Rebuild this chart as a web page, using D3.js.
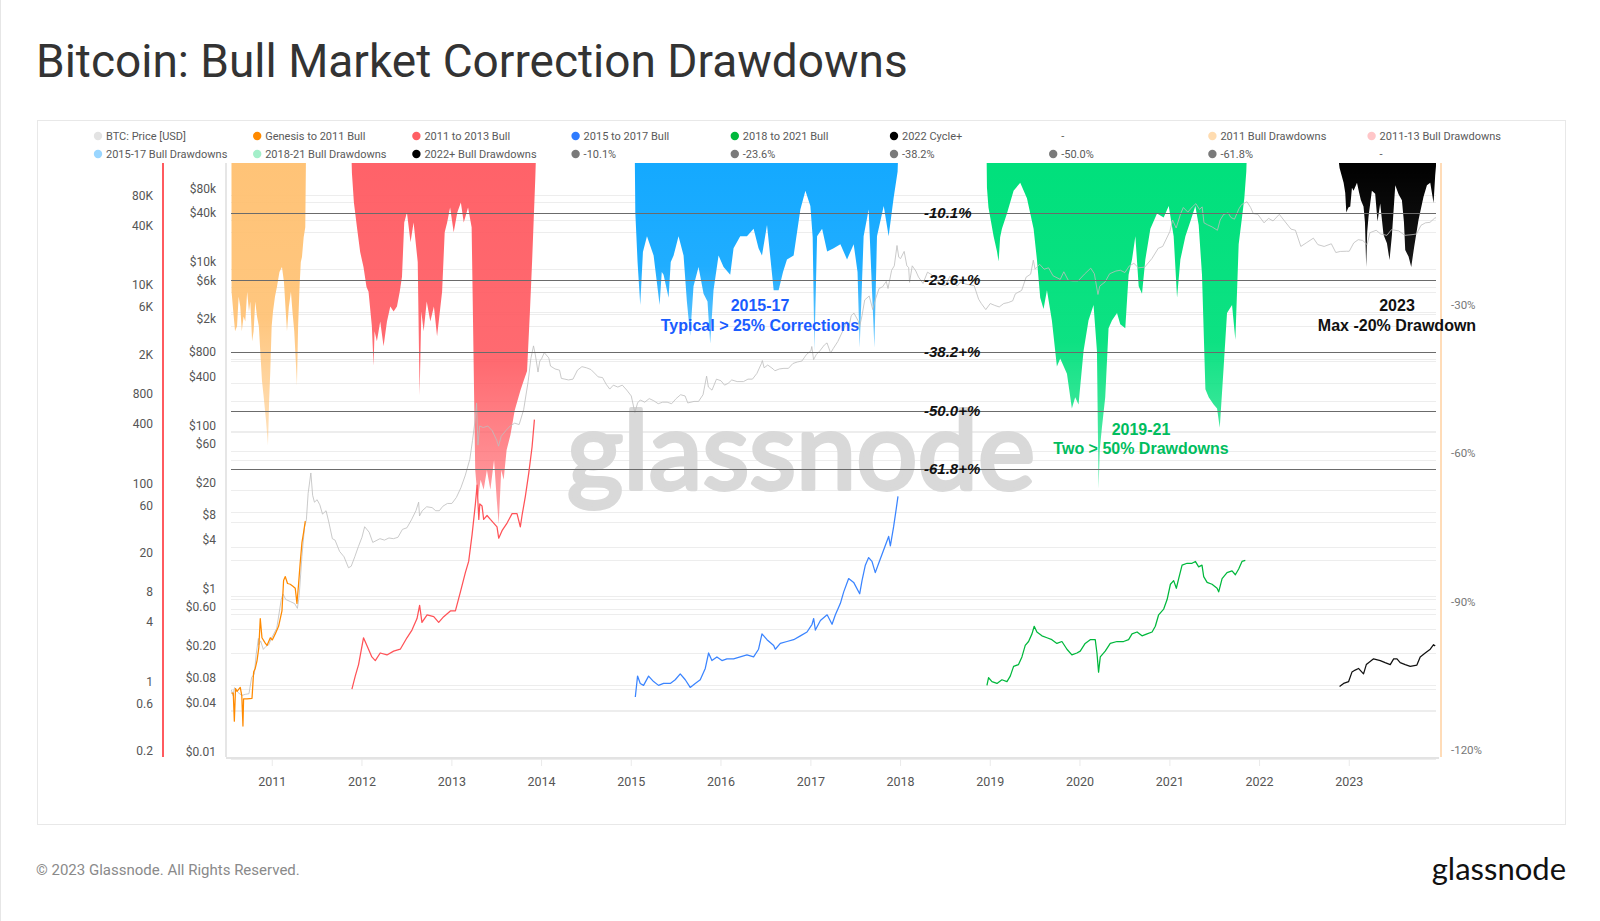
<!DOCTYPE html>
<html><head><meta charset="utf-8">
<script src="https://cdn.jsdelivr.net/npm/d3@7"></script>
<style>body{margin:0;background:#fff;} svg{display:block;}</style>
</head><body>
<svg id="chart" width="1600" height="921"></svg>
<script>
// ---------------- DATA (decimal year, value) ----------------
const btcPrice = [[2010.545,0.07],[2010.56,0.06],[2010.58,0.075],[2010.6,0.07],[2010.62,0.065],[2010.66,0.06],[2010.7,0.062],[2010.74,0.063],[2010.77,0.1],[2010.8,0.11],[2010.82,0.19],[2010.845,0.3],[2010.85,0.25],[2010.87,0.28],[2010.9,0.22],[2010.93,0.24],[2010.96,0.25],[2010.99,0.3],[2011.05,0.4],[2011.1,0.9],[2011.12,1.05],[2011.15,0.9],[2011.2,0.85],[2011.25,0.8],[2011.28,0.7],[2011.3,1.0],[2011.33,3.0],[2011.36,7],[2011.38,8.5],[2011.4,18],[2011.43,31.9],[2011.45,17],[2011.47,14],[2011.5,15],[2011.53,13],[2011.56,10],[2011.6,11],[2011.63,8],[2011.67,5],[2011.7,4.8],[2011.75,3.5],[2011.8,3.0],[2011.85,2.2],[2011.88,2.3],[2011.92,3],[2011.96,4],[2012.0,5.2],[2012.03,7],[2012.08,6],[2012.12,4.5],[2012.2,5],[2012.25,4.8],[2012.3,5.1],[2012.35,5],[2012.4,5.2],[2012.45,6.5],[2012.5,6.8],[2012.55,8.5],[2012.6,11],[2012.63,14],[2012.64,9.5],[2012.67,11],[2012.72,12.3],[2012.78,12],[2012.82,11],[2012.86,11],[2012.9,12.5],[2012.95,13.5],[2013.0,13.5],[2013.05,16],[2013.1,21],[2013.15,30],[2013.2,47],[2013.23,80],[2013.26,145],[2013.275,230],[2013.29,70],[2013.31,120],[2013.35,115],[2013.4,120],[2013.45,105],[2013.5,80],[2013.52,68],[2013.55,90],[2013.6,105],[2013.65,120],[2013.7,130],[2013.75,125],[2013.8,190],[2013.85,420],[2013.88,800],[2013.91,1150],[2013.93,900],[2013.96,550],[2013.98,750],[2014.0,800],[2014.03,950],[2014.08,820],[2014.1,650],[2014.15,600],[2014.2,580],[2014.22,460],[2014.26,450],[2014.3,440],[2014.35,450],[2014.4,580],[2014.45,640],[2014.5,620],[2014.55,590],[2014.6,520],[2014.63,480],[2014.68,470],[2014.72,390],[2014.76,340],[2014.8,380],[2014.85,360],[2014.9,380],[2014.95,330],[2015.0,280],[2015.04,175],[2015.07,230],[2015.1,250],[2015.15,235],[2015.2,260],[2015.25,245],[2015.3,225],[2015.35,235],[2015.4,235],[2015.45,225],[2015.5,260],[2015.55,290],[2015.6,280],[2015.63,230],[2015.7,240],[2015.75,240],[2015.8,290],[2015.84,490],[2015.86,360],[2015.9,330],[2015.95,450],[2016.0,430],[2016.04,380],[2016.08,400],[2016.12,440],[2016.18,420],[2016.25,420],[2016.3,450],[2016.35,450],[2016.4,530],[2016.45,700],[2016.46,760],[2016.48,620],[2016.52,670],[2016.58,600],[2016.6,570],[2016.65,600],[2016.7,610],[2016.75,610],[2016.8,700],[2016.85,730],[2016.9,750],[2016.95,900],[2017.0,1000],[2017.01,1130],[2017.03,780],[2017.06,900],[2017.1,1000],[2017.15,1180],[2017.18,1250],[2017.22,940],[2017.25,1070],[2017.3,1300],[2017.35,1700],[2017.4,2300],[2017.42,1900],[2017.45,2700],[2017.48,2900],[2017.53,2300],[2017.54,1900],[2017.57,2700],[2017.6,4200],[2017.65,4700],[2017.69,3200],[2017.72,4300],[2017.76,5800],[2017.8,6100],[2017.84,7100],[2017.86,5800],[2017.9,9700],[2017.93,11000],[2017.96,19500],[2017.98,14000],[2018.0,13500],[2018.04,16500],[2018.07,11000],[2018.09,10500],[2018.1,6900],[2018.13,11000],[2018.17,9500],[2018.2,8000],[2018.25,6700],[2018.3,9200],[2018.35,8500],[2018.4,7500],[2018.45,6500],[2018.5,6300],[2018.55,8200],[2018.6,7000],[2018.63,6200],[2018.67,7000],[2018.72,6600],[2018.78,6400],[2018.82,6300],[2018.87,4300],[2018.9,3800],[2018.95,3200],[2019.0,3800],[2019.05,3600],[2019.1,3450],[2019.15,3800],[2019.2,3900],[2019.25,4100],[2019.28,5000],[2019.35,5500],[2019.4,8000],[2019.45,8700],[2019.48,12900],[2019.5,10000],[2019.55,11500],[2019.6,10000],[2019.65,10400],[2019.7,8300],[2019.78,7500],[2019.82,9300],[2019.87,7300],[2019.92,7200],[2019.98,7200],[2020.05,8700],[2020.12,10300],[2020.16,8800],[2020.2,4900],[2020.22,6200],[2020.28,7000],[2020.33,8800],[2020.4,9500],[2020.45,9700],[2020.5,9100],[2020.55,11000],[2020.6,11800],[2020.65,10400],[2020.72,10600],[2020.8,13500],[2020.87,18000],[2020.92,19000],[2021.0,29000],[2021.03,40000],[2021.07,32000],[2021.12,48000],[2021.15,57000],[2021.2,50000],[2021.25,58000],[2021.29,63500],[2021.33,54000],[2021.36,58000],[2021.38,37000],[2021.42,35000],[2021.47,33000],[2021.53,30000],[2021.56,40000],[2021.6,47000],[2021.65,49000],[2021.68,43000],[2021.72,41000],[2021.77,55000],[2021.8,62000],[2021.86,67000],[2021.9,57000],[2021.93,48000],[2021.98,47000],[2022.05,37000],[2022.1,42000],[2022.15,39000],[2022.22,47000],[2022.27,40000],[2022.35,31000],[2022.4,30000],[2022.46,19000],[2022.52,21000],[2022.6,24000],[2022.65,20000],[2022.72,19000],[2022.8,20500],[2022.85,16000],[2022.9,16500],[2022.97,16600],[2023.0,16600],[2023.05,21000],[2023.1,23000],[2023.15,22500],[2023.2,20000],[2023.23,28000],[2023.3,30000],[2023.35,27000],[2023.42,26000],[2023.47,30500],[2023.55,29500],[2023.62,26000],[2023.7,26500],[2023.75,27000],[2023.8,34500],[2023.85,37000],[2023.9,37500],[2023.95,42000],[2023.97,43000]];

const bullGenesis2011 = [[2010.545,0.9],[2010.565,0.9],[2010.577,0.47],[2010.59,1.0],[2010.607,0.94],[2010.643,1.03],[2010.66,0.85],[2010.673,0.42],[2010.68,0.79],[2010.718,0.79],[2010.774,0.8],[2010.792,1.47],[2010.81,1.6],[2010.83,1.92],[2010.85,2.6],[2010.866,5.1],[2010.885,3.26],[2010.92,2.9],[2010.941,2.73],[2010.978,3.26],[2011.0,3.1],[2011.033,3.57],[2011.07,4.26],[2011.108,6.08],[2011.126,12.3],[2011.145,13.5],[2011.17,11.5],[2011.2,11.3],[2011.23,10.8],[2011.256,10.3],[2011.275,7.25],[2011.293,11.3],[2011.31,18],[2011.331,29.9],[2011.35,38],[2011.368,49]];

const bull2011to2013 = [[2011.888,0.99],[2011.925,1.34],[2011.962,1.75],[2012.017,3.26],[2012.055,2.73],[2012.11,2.09],[2012.148,1.92],[2012.203,2.29],[2012.278,2.19],[2012.352,2.39],[2012.426,2.5],[2012.5,3.26],[2012.556,3.9],[2012.612,5.1],[2012.641,6.93],[2012.667,4.66],[2012.724,5.56],[2012.798,5.32],[2012.853,4.66],[2012.909,5.32],[2012.983,6.08],[2013.039,6.08],[2013.095,9.47],[2013.15,14.8],[2013.187,19.2],[2013.225,35.8],[2013.262,73],[2013.281,113],[2013.3,51],[2013.311,73],[2013.336,69.6],[2013.354,51],[2013.392,55.8],[2013.429,51],[2013.466,46.8],[2013.503,42.8],[2013.522,32.9],[2013.559,39.2],[2013.615,46.8],[2013.671,58.3],[2013.726,58.3],[2013.763,42.8],[2013.782,55.8],[2013.819,87],[2013.857,149],[2013.894,275],[2013.92,517]];

const bull2015to2017 = [[2015.045,0.825],[2015.07,1.34],[2015.1,1.13],[2015.137,1.08],[2015.193,1.34],[2015.249,1.18],[2015.304,1.08],[2015.36,1.13],[2015.435,1.13],[2015.49,1.23],[2015.546,1.41],[2015.602,1.23],[2015.657,1.03],[2015.713,1.13],[2015.769,1.23],[2015.825,1.6],[2015.862,2.29],[2015.899,1.92],[2015.955,2.09],[2016.011,1.92],[2016.066,2.0],[2016.14,2.0],[2016.214,2.09],[2016.289,2.19],[2016.363,2.09],[2016.418,2.5],[2016.456,3.57],[2016.512,3.12],[2016.586,2.73],[2016.604,2.5],[2016.66,2.86],[2016.734,2.99],[2016.808,3.12],[2016.883,3.41],[2016.957,3.73],[2017.013,4.46],[2017.031,5.1],[2017.05,3.9],[2017.106,4.88],[2017.181,5.56],[2017.236,4.46],[2017.273,5.56],[2017.329,7.25],[2017.366,9.47],[2017.421,12.9],[2017.477,11.8],[2017.544,9.05],[2017.57,12.3],[2017.607,17.6],[2017.644,21],[2017.681,19.2],[2017.718,14.8],[2017.756,18.4],[2017.812,25.2],[2017.867,34.3],[2017.886,27.5],[2017.922,42.8],[2017.953,66.5],[2017.971,87]];

const bull2018to2021 = [[2018.963,1.08],[2018.981,1.29],[2019.019,1.18],[2019.075,1.13],[2019.13,1.23],[2019.186,1.18],[2019.223,1.34],[2019.26,1.68],[2019.315,1.75],[2019.353,2.09],[2019.39,2.73],[2019.427,2.99],[2019.465,3.57],[2019.49,4.26],[2019.52,3.73],[2019.576,3.41],[2019.632,3.26],[2019.687,3.12],[2019.743,2.86],[2019.799,2.99],[2019.855,2.5],[2019.91,2.19],[2019.966,2.29],[2020.003,2.39],[2020.058,2.86],[2020.114,3.12],[2020.17,3.12],[2020.189,2.29],[2020.207,1.47],[2020.226,2.09],[2020.281,2.39],[2020.337,2.86],[2020.412,2.99],[2020.485,2.99],[2020.541,3.12],[2020.579,3.57],[2020.635,3.73],[2020.69,3.41],[2020.746,3.57],[2020.802,3.73],[2020.838,4.26],[2020.875,5.56],[2020.931,6.35],[2020.969,7.92],[2021.006,11.3],[2021.042,12.3],[2021.072,10.3],[2021.098,12.9],[2021.136,17.6],[2021.192,18.4],[2021.247,18.4],[2021.284,19.2],[2021.321,16.9],[2021.358,17.6],[2021.377,13.5],[2021.415,11.8],[2021.47,11.3],[2021.526,10.3],[2021.544,9.47],[2021.582,12.9],[2021.637,14.8],[2021.693,15.4],[2021.73,14.1],[2021.767,16.1],[2021.804,19.2],[2021.841,19.7]];

const cycle2022 = [[2022.892,1.05],[2022.937,1.13],[2022.993,1.18],[2023.03,1.47],[2023.066,1.54],[2023.103,1.6],[2023.159,1.41],[2023.19,1.75],[2023.215,1.83],[2023.271,2.0],[2023.346,1.92],[2023.4,1.83],[2023.457,1.75],[2023.495,2.0],[2023.532,2.0],[2023.568,1.83],[2023.624,1.75],[2023.68,1.68],[2023.754,1.73],[2023.791,2.09],[2023.847,2.29],[2023.903,2.5],[2023.94,2.78],[2023.958,2.69]];

// drawdowns (percent below running high, positive numbers)
const dd2011 = [[2010.545,0],[2010.546,26],[2010.565,30],[2010.585,34],[2010.607,33],[2010.625,27],[2010.643,29],[2010.66,34],[2010.68,31],[2010.699,32],[2010.72,26],[2010.74,30],[2010.755,28],[2010.775,36],[2010.792,34],[2010.81,28],[2010.83,31],[2010.85,33],[2010.866,38],[2010.885,44],[2010.903,47],[2010.93,52],[2010.952,57],[2010.965,48],[2010.978,42],[2010.993,33],[2011.008,30],[2011.03,27],[2011.052,25],[2011.08,22],[2011.108,21],[2011.13,24],[2011.15,30],[2011.164,34],[2011.185,29],[2011.208,26],[2011.225,30],[2011.245,34],[2011.262,40],[2011.275,45],[2011.288,33],[2011.304,25],[2011.318,20],[2011.331,19],[2011.35,15],[2011.368,13],[2011.375,0]];

const dd2011to2013 = [[2011.885,0],[2011.888,2],[2011.91,8],[2011.944,13],[2011.98,18],[2012.017,21],[2012.05,25],[2012.073,26],[2012.11,33],[2012.129,41],[2012.14,34],[2012.166,36],[2012.203,32],[2012.24,37],[2012.278,32],[2012.315,29],[2012.352,30],[2012.389,29],[2012.42,26],[2012.445,23],[2012.47,12],[2012.5,10],[2012.54,16],[2012.574,12],[2012.62,20],[2012.641,47],[2012.66,30],[2012.686,34],[2012.72,28],[2012.76,32],[2012.8,29],[2012.835,35],[2012.86,31],[2012.891,26],[2012.92,14],[2012.947,12],[2012.98,9],[2013.02,14],[2013.06,10],[2013.1,8],[2013.132,12],[2013.18,9],[2013.22,13],[2013.26,62],[2013.288,68],[2013.32,64],[2013.354,66],[2013.39,62],[2013.429,66],[2013.47,60],[2013.5,68],[2013.522,73],[2013.55,62],[2013.577,64],[2013.61,58],[2013.652,55],[2013.7,50],[2013.763,46],[2013.8,44],[2013.838,42],[2013.87,30],[2013.894,20],[2013.93,3],[2013.935,0]];

const dd2015to2017 = [[2015.04,0],[2015.045,10],[2015.07,20],[2015.1,28.7],[2015.13,18],[2015.175,14.8],[2015.249,18.7],[2015.316,28.7],[2015.34,22],[2015.36,22.6],[2015.416,27.2],[2015.44,20],[2015.472,18.7],[2015.527,14.8],[2015.583,18.7],[2015.62,28],[2015.657,34.9],[2015.694,24.9],[2015.75,21],[2015.806,26.4],[2015.85,28],[2015.88,36.5],[2015.917,25.7],[2015.973,18.7],[2016.029,21],[2016.103,22.6],[2016.14,17.2],[2016.214,14.8],[2016.289,14.8],[2016.363,13.3],[2016.418,17.2],[2016.456,18.7],[2016.512,12.5],[2016.586,25.7],[2016.641,25.7],[2016.69,22],[2016.734,19.5],[2016.808,18.7],[2016.883,9.4],[2016.939,5.6],[2016.994,8.7],[2017.02,15],[2017.039,38],[2017.069,14.8],[2017.125,13.3],[2017.181,17.9],[2017.254,17.2],[2017.329,16.4],[2017.403,19.5],[2017.477,16.4],[2017.52,22],[2017.544,37.3],[2017.588,14.8],[2017.644,9.4],[2017.708,37.3],[2017.737,14.8],[2017.812,8.7],[2017.867,14.8],[2017.922,7.1],[2017.967,1.7],[2017.97,0]];

const dd2018to2021 = [[2018.96,0],[2018.963,5],[2018.98,9],[2019.0,11],[2019.037,14.8],[2019.075,17.9],[2019.093,19.9],[2019.11,15],[2019.13,13.3],[2019.186,10.2],[2019.26,5.6],[2019.334,4.0],[2019.409,7.1],[2019.446,10.2],[2019.483,13.3],[2019.52,19.5],[2019.557,27.2],[2019.594,29.5],[2019.632,25.7],[2019.687,31.8],[2019.743,41.1],[2019.78,39.5],[2019.855,42.6],[2019.91,49.6],[2019.947,47.3],[2019.984,48.8],[2020.04,38],[2020.095,31.8],[2020.151,28.7],[2020.189,38],[2020.2,55],[2020.207,65.8],[2020.22,58],[2020.244,53.5],[2020.281,47.3],[2020.318,33.4],[2020.356,31.8],[2020.412,30.3],[2020.448,32.6],[2020.504,33.4],[2020.541,22.6],[2020.579,19.5],[2020.616,14.8],[2020.653,24.9],[2020.69,26.4],[2020.727,19.5],[2020.783,13.3],[2020.857,10.2],[2020.931,11],[2020.987,8.7],[2021.042,14.8],[2021.08,27.2],[2021.117,19.5],[2021.173,14.8],[2021.228,11.8],[2021.284,8.7],[2021.321,12.5],[2021.358,22.6],[2021.396,45.7],[2021.433,47.3],[2021.488,48.8],[2021.526,49.6],[2021.556,53.5],[2021.6,41.1],[2021.637,30.3],[2021.693,28.7],[2021.73,35.7],[2021.767,16.4],[2021.804,11],[2021.83,7.1],[2021.852,1.7],[2021.855,0]];

const dd2022 = [[2022.885,0],[2022.892,1],[2022.937,4],[2022.955,6],[2022.967,10],[2022.99,9],[2023.011,8.8],[2023.03,5],[2023.048,5.6],[2023.086,4],[2023.11,6],[2023.13,7.5],[2023.159,8.8],[2023.175,12],[2023.189,21],[2023.2,14],[2023.215,10.8],[2023.252,5.6],[2023.289,6.2],[2023.315,11.8],[2023.345,8.2],[2023.382,14.5],[2023.42,16.2],[2023.449,19.6],[2023.476,14.5],[2023.513,4.5],[2023.55,6.3],[2023.587,7.5],[2023.61,12],[2023.624,17.6],[2023.661,18.9],[2023.691,21],[2023.724,16.9],[2023.772,11.5],[2023.828,6.8],[2023.866,4.5],[2023.903,4],[2023.94,8.1],[2023.958,2.5],[2023.97,0]];

const levelValues = [-10.1, -23.6, -38.2, -50.0, -61.8];
const levelLabels = ["-10.1%", "-23.6+%", "-38.2+%", "-50.0+%", "-61.8+%"];

const multTicks = [80000,40000,10000,6000,2000,800,400,100,60,20,8,4,1,0.6,0.2];
const multLabels = ["80K","40K","10K","6K","2K","800","400","100","60","20","8","4","1","0.6","0.2"];
const priceTicks = [80000,40000,10000,6000,2000,800,400,100,60,20,8,4,1,0.6,0.2,0.08,0.04,0.01];
const priceLabels = ["$80k","$40k","$10k","$6k","$2k","$800","$400","$100","$60","$20","$8","$4","$1","$0.60","$0.20","$0.08","$0.04","$0.01"];
const ddTicks = [-30,-60,-90,-120];
const ddLabels = ["-30%","-60%","-90%","-120%"];
const yearTicks = [2011,2012,2013,2014,2015,2016,2017,2018,2019,2020,2021,2022,2023];

const legendRow1 = [["BTC: Price [USD]","#e3e3e3"],["Genesis to 2011 Bull","#ff8a00"],["2011 to 2013 Bull","#ff5f64"],["2015 to 2017 Bull","#2f7cff"],["2018 to 2021 Bull","#00b83c"],["2022 Cycle+","#000000"],["-",null],["2011 Bull Drawdowns","#ffdcb0"],["2011-13 Bull Drawdowns","#ffc6c8"]];
const legendRow2 = [["2015-17 Bull Drawdowns","#9ad6ff"],["2018-21 Bull Drawdowns","#a4efca"],["2022+ Bull Drawdowns","#000000"],["-10.1%","#7a7a7a"],["-23.6%","#7a7a7a"],["-38.2%","#7a7a7a"],["-50.0%","#7a7a7a"],["-61.8%","#7a7a7a"],["-",null]];

// ---------------- DRAW ----------------
const svg = d3.select('#chart');
const P = {left:231, right:1436, top:163, bottom:757};
const yd = t => { const y = Math.floor(t); const s = Date.UTC(y,0,1), e = Date.UTC(y+1,0,1); return new Date(s + (t-y)*(e-s)); };
const x = d3.scaleUtc().domain([new Date(Date.UTC(2010,6,17)), new Date(Date.UTC(2023,11,20))]).range([P.left, P.right]);
const yA = d3.scaleLog().domain([0.2, 200000]).range([758, 163]);
const yB = d3.scaleLog().domain([0.01, 200000]).range([759, 163]);
const yD = d3.scaleLinear().domain([-120, 0]).range([P.bottom, P.top]);
const FONT = "Roboto, 'Liberation Sans', Arial, sans-serif";

// page & frame
svg.append('rect').attr('x',0).attr('y',0).attr('width',1600).attr('height',921).attr('fill','#fff');
svg.append('line').attr('x1',0.5).attr('x2',0.5).attr('y1',0).attr('y2',921).attr('stroke','#e6e6e6');
svg.append('rect').attr('x',37.5).attr('y',120.5).attr('width',1528).attr('height',704).attr('fill','none').attr('stroke','#e8e8e8');

// title
svg.append('text').attr('x',36).attr('y',77).attr('font-family',FONT).attr('font-size',46).attr('fill','#333').text('Bitcoin: Bull Market Correction Drawdowns');

// legend
function legendRow(items, y){
  items.forEach((d,i)=>{
    const cx = 98 + 159.2*i;
    if (d[1]) svg.append('circle').attr('cx',cx).attr('cy',y).attr('r',4.2).attr('fill',d[1]);
    svg.append('text').attr('x',cx+8).attr('y',y).attr('dy','0.35em').attr('font-family',FONT).attr('font-size',11).attr('fill','#5a5a5a').text(d[0]);
  });
}
legendRow(legendRow1, 136);
legendRow(legendRow2, 154);

// clip
const defs = svg.append('defs');
defs.append('clipPath').attr('id','plotClip').append('rect').attr('x',P.left).attr('y',P.top).attr('width',P.right-P.left).attr('height',P.bottom-P.top);

// gridlines
const grid = svg.append('g').attr('stroke','#ededed').attr('stroke-width',1);
multTicks.forEach(v=>grid.append('line').attr('x1',P.left).attr('x2',P.right).attr('y1',Math.round(yA(v))+0.5).attr('y2',Math.round(yA(v))+0.5));
priceTicks.forEach(v=>grid.append('line').attr('x1',P.left).attr('x2',P.right).attr('y1',Math.round(yB(v))+0.5).attr('y2',Math.round(yB(v))+0.5));
ddTicks.forEach(v=>grid.append('line').attr('x1',P.left).attr('x2',P.right).attr('y1',Math.round(yD(v))+0.5).attr('y2',Math.round(yD(v))+0.5));

// watermark
svg.append('text').attr('x',801).attr('y',489).attr('text-anchor','middle').attr('font-family',"Lato, sans-serif").attr('font-size',108).attr('fill','#d9d9d9').attr('stroke','#d9d9d9').attr('stroke-width',4).attr('stroke-linejoin','round').text('glassnode');

const plot = svg.append('g').attr('clip-path','url(#plotClip)');

// drawdown areas with vertical fade
const area = d3.area().x(d=>x(yd(d[0]))).y0(yD(0)).y1(d=>yD(-d[1]));
const ddSeries = [
  {data:dd2011, color:'#ffc070', top:0.95, bottom:0.45},
  {data:dd2011to2013, color:'#ff5a61', top:0.95, bottom:0.55},
  {data:dd2015to2017, color:'#14a9ff', top:1, bottom:0.6},
  {data:dd2018to2021, color:'#00e07c', top:1, bottom:0.6},
  {data:dd2022, color:'#000000', top:1, bottom:0.9}
];
ddSeries.forEach((s,i)=>{
  const id = 'ddg'+i;
  const maxD = d3.max(s.data, d=>d[1]);
  const g = defs.append('linearGradient').attr('id',id).attr('gradientUnits','userSpaceOnUse').attr('x1',0).attr('x2',0).attr('y1',yD(0)).attr('y2',yD(-maxD));
  g.append('stop').attr('offset',0).attr('stop-color',s.color).attr('stop-opacity',s.top);
  g.append('stop').attr('offset',0.55).attr('stop-color',s.color).attr('stop-opacity',s.top*0.95);
  g.append('stop').attr('offset',1).attr('stop-color',s.color).attr('stop-opacity',s.bottom);
  plot.append('path').datum(s.data).attr('d',area).attr('fill','url(#'+id+')');
});

// BTC price (gray)
plot.append('path').datum(btcPrice).attr('d',d3.line().x(d=>x(yd(d[0]))).y(d=>yB(d[1]))).attr('fill','none').attr('stroke','#bdbdbd').attr('stroke-width',0.9).attr('stroke-opacity',0.9);

// level lines
levelValues.forEach((v,i)=>{
  plot.append('line').attr('x1',P.left).attr('x2',P.right).attr('y1',Math.round(yD(v))+0.5).attr('y2',Math.round(yD(v))+0.5).attr('stroke','#6b6b6b').attr('stroke-width',1);
});

// cycle lines
const lineA = d3.line().x(d=>x(yd(d[0]))).y(d=>yA(d[1]));
[[bullGenesis2011,'#ff8a00'],[bull2011to2013,'#ff5257'],[bull2015to2017,'#3a84ff'],[bull2018to2021,'#00b83c'],[cycle2022,'#111']].forEach(s=>{
  plot.append('path').datum(s[0]).attr('d',lineA).attr('fill','none').attr('stroke',s[1]).attr('stroke-width',1.25).attr('stroke-linejoin','round');
});

// level labels
levelValues.forEach((v,i)=>{
  svg.append('text').attr('x',924).attr('y',yD(v)).attr('dy','0.36em').attr('font-family',"'Liberation Sans', Arial, sans-serif").attr('font-weight','bold').attr('font-style','italic').attr('font-size',15).attr('fill','#111').text(levelLabels[i]);
});

// axes lines
svg.append('line').attr('x1',163).attr('x2',163).attr('y1',P.top).attr('y2',P.bottom).attr('stroke','#ff5a5f').attr('stroke-width',2);
svg.append('line').attr('x1',226).attr('x2',226).attr('y1',P.top).attr('y2',P.bottom).attr('stroke','#e6e6e6').attr('stroke-width',2);
svg.append('line').attr('x1',1441).attr('x2',1441).attr('y1',P.top).attr('y2',P.bottom).attr('stroke','#ffdcb8').attr('stroke-width',2);
svg.append('line').attr('x1',P.left-5).attr('x2',P.right+3).attr('y1',P.bottom+1).attr('y2',P.bottom+1).attr('stroke','#e3e3e3').attr('stroke-width',2);

// axis labels
const axA = svg.append('g').attr('font-family',FONT).attr('font-size',12).attr('fill','#555').attr('text-anchor','end');
multTicks.forEach((v,i)=>axA.append('text').attr('x',153).attr('y',yA(v)-7).attr('dy','0.35em').text(multLabels[i]));
const axB = svg.append('g').attr('font-family',FONT).attr('font-size',12).attr('fill','#555').attr('text-anchor','end');
priceTicks.forEach((v,i)=>axB.append('text').attr('x',216).attr('y',yB(v)-7).attr('dy','0.35em').text(priceLabels[i]));
const axD = svg.append('g').attr('font-family',FONT).attr('font-size',11.5).attr('fill','#777').attr('text-anchor','start');
ddTicks.forEach((v,i)=>axD.append('text').attr('x',1451).attr('y',yD(v)-7).attr('dy','0.35em').text(ddLabels[i]));

// x axis
const axX = svg.append('g').attr('font-family',FONT).attr('font-size',12.5).attr('fill','#555').attr('text-anchor','middle');
yearTicks.forEach(yr=>{
  const xx = x(new Date(Date.UTC(yr,0,1)));
  axX.append('line').attr('x1',xx).attr('x2',xx).attr('y1',P.bottom+2).attr('y2',P.bottom+9).attr('stroke','#eaeaea');
  axX.append('text').attr('x',xx).attr('y',782).attr('dy','0.35em').text(yr);
});

// annotations
const ANN = "'Liberation Sans', Arial, sans-serif";
function ann(txt, cx, cy, col){
  svg.append('text').attr('x',cx).attr('y',cy).attr('dy','0.36em').attr('text-anchor','middle').attr('font-family',ANN).attr('font-weight','bold').attr('font-size',16).attr('fill',col).text(txt);
}
ann('2015-17', 760, 305, '#1a5cff');
ann('Typical > 25% Corrections', 760, 325, '#1a5cff');
ann('2019-21', 1141, 429, '#00bd5e');
ann('Two > 50% Drawdowns', 1141, 448, '#00bd5e');
ann('2023', 1397, 305, '#111');
ann('Max -20% Drawdown', 1397, 325, '#111');

// footer
svg.append('text').attr('x',36).attr('y',870).attr('dy','0.35em').attr('font-family',FONT).attr('font-size',15).attr('fill','#8a8a8a').text('© 2023 Glassnode. All Rights Reserved.');
svg.append('text').attr('x',1566).attr('y',880).attr('text-anchor','end').attr('font-family',"Lato, 'Noto Sans', sans-serif").attr('font-size',31).attr('fill','#111').text('glassnode');
</script>
</body></html>
